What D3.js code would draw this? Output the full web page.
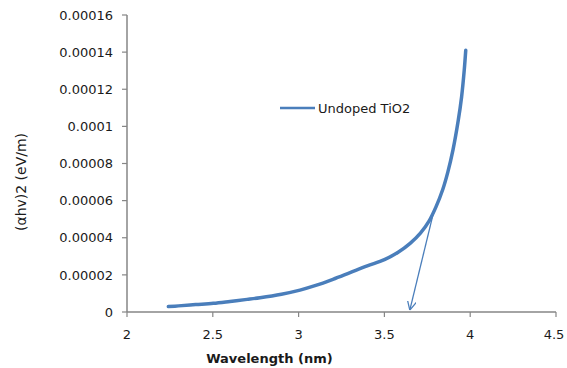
<!DOCTYPE html>
<html>
<head>
<meta charset="utf-8">
<script src="https://cdn.jsdelivr.net/npm/d3@7"></script>
<style>
  body { margin: 0; background: #fff; }
  text { font-family: "DejaVu Sans", sans-serif; fill: #1a1a1a; }
</style>
</head>
<body>
<svg id="chart" width="567" height="368"></svg>
<script>
// values
const wavelength = [2.241, 2.30, 2.40, 2.503, 2.60, 2.70, 2.775, 2.90, 3.008, 3.10, 3.20, 3.30, 3.40, 3.50, 3.58, 3.65, 3.71, 3.76, 3.80, 3.84, 3.87, 3.90, 3.93, 3.95, 3.965, 3.974];
const absorb = [2.9e-6, 3.3e-6, 4.0e-6, 4.7e-6, 5.7e-6, 6.8e-6, 7.7e-6, 9.6e-6, 1.18e-5, 1.43e-5, 1.76e-5, 2.12e-5, 2.48e-5, 2.82e-5, 3.22e-5, 3.70e-5, 4.25e-5, 4.90e-5, 5.65e-5, 6.60e-5, 7.55e-5, 8.75e-5, 1.03e-4, 1.16e-4, 1.30e-4, 1.41e-4];
const tangent = [{ x: 3.79, y: 5.5e-5 }, { x: 3.648, y: 1.0e-6 }];
const xTicks = [2, 2.5, 3, 3.5, 4, 4.5];
const yTicks = [0, 0.00002, 0.00004, 0.00006, 0.00008, 0.0001, 0.00012, 0.00014, 0.00016];
const seriesName = "Undoped TiO2";

const svg = d3.select("#chart");
const width = +svg.attr("width");
const height = +svg.attr("height");
const margin = { top: 15, right: 11, bottom: 56, left: 127 };
const innerWidth = width - margin.left - margin.right;
const innerHeight = height - margin.top - margin.bottom;
const blue = "#4a7ebb";
const axisColor = "#868686";

const xScale = d3.scaleLinear().domain([2, 4.5]).range([0, innerWidth]);
const yScale = d3.scaleLinear().domain([0, 0.00016]).range([innerHeight, 0]);

const g = svg.append("g").attr("transform", `translate(${margin.left},${margin.top})`);

// axis lines and ticks
g.append("line")
    .attr("x1", 0).attr("x2", innerWidth).attr("y1", innerHeight).attr("y2", innerHeight)
    .attr("stroke", axisColor).attr("stroke-width", 1.5);
g.append("line")
    .attr("x1", 0).attr("x2", 0).attr("y1", 0).attr("y2", innerHeight)
    .attr("stroke", axisColor).attr("stroke-width", 1.5);

g.selectAll(".xtick").data(xTicks).join("line")
    .attr("class", "xtick")
    .attr("x1", d => xScale(d)).attr("x2", d => xScale(d))
    .attr("y1", innerHeight).attr("y2", innerHeight + 5)
    .attr("stroke", axisColor).attr("stroke-width", 1.2);
g.selectAll(".ytick").data(yTicks).join("line")
    .attr("class", "ytick")
    .attr("x1", -5).attr("x2", 0)
    .attr("y1", d => yScale(d)).attr("y2", d => yScale(d))
    .attr("stroke", axisColor).attr("stroke-width", 1.2);

// tick labels
const yFmt = d => d === 0 ? "0" : d.toFixed(5).replace(/0+$/, "");
g.selectAll(".ylab").data(yTicks).join("text")
    .attr("class", "ylab")
    .attr("x", -14)
    .attr("y", d => yScale(d))
    .attr("dy", "0.36em")
    .attr("text-anchor", "end")
    .attr("font-size", 13)
    .text(yFmt);

g.selectAll(".xlab").data(xTicks).join("text")
    .attr("class", "xlab")
    .attr("x", d => xScale(d) - (d === 4.5 ? 2 : 0))
    .attr("y", innerHeight + 27)
    .attr("text-anchor", "middle")
    .attr("font-size", 13)
    .text(d => String(d));

// data curve
const data = wavelength.map((x, i) => ({ x, y: absorb[i] }));
const lineGen = d3.line()
    .x(d => xScale(d.x))
    .y(d => yScale(d.y))
    .curve(d3.curveCatmullRom.alpha(0.5));

g.append("path")
    .datum(data)
    .attr("fill", "none")
    .attr("stroke", blue)
    .attr("stroke-width", 3.5)
    .attr("stroke-linecap", "round")
    .attr("d", lineGen);

// tangent arrow
svg.append("defs").append("marker")
    .attr("id", "arrow")
    .attr("viewBox", "0 0 10 10")
    .attr("refX", 10).attr("refY", 5)
    .attr("markerWidth", 9).attr("markerHeight", 9)
    .attr("markerUnits", "userSpaceOnUse")
    .attr("orient", "auto")
    .append("path")
    .attr("d", "M0,0 L10,5 L0,10")
    .attr("fill", "none")
    .attr("stroke", blue)
    .attr("stroke-width", 1.4);

g.append("line")
    .attr("x1", xScale(tangent[0].x)).attr("y1", yScale(tangent[0].y))
    .attr("x2", xScale(tangent[1].x)).attr("y2", yScale(tangent[1].y))
    .attr("stroke", blue)
    .attr("stroke-width", 1.3)
    .attr("marker-end", "url(#arrow)");

// legend
const legend = svg.append("g").attr("transform", "translate(280,108)");
legend.append("line")
    .attr("x1", 0).attr("x2", 35).attr("y1", 0).attr("y2", 0)
    .attr("stroke", blue).attr("stroke-width", 2.5);
legend.append("text")
    .attr("x", 38).attr("y", 0).attr("dy", "0.35em")
    .attr("font-size", 13)
    .text(seriesName);

// axis titles
svg.append("text")
    .attr("x", margin.left + xScale(2.83))
    .attr("y", 363)
    .attr("text-anchor", "middle")
    .attr("font-size", 13)
    .attr("font-weight", "bold")
    .text("Wavelength (nm)");

svg.append("text")
    .attr("transform", "translate(26,182) rotate(-90)")
    .attr("text-anchor", "middle")
    .attr("font-size", 14)
    .text("(αhv)2 (eV/m)");
</script>
</body>
</html>
